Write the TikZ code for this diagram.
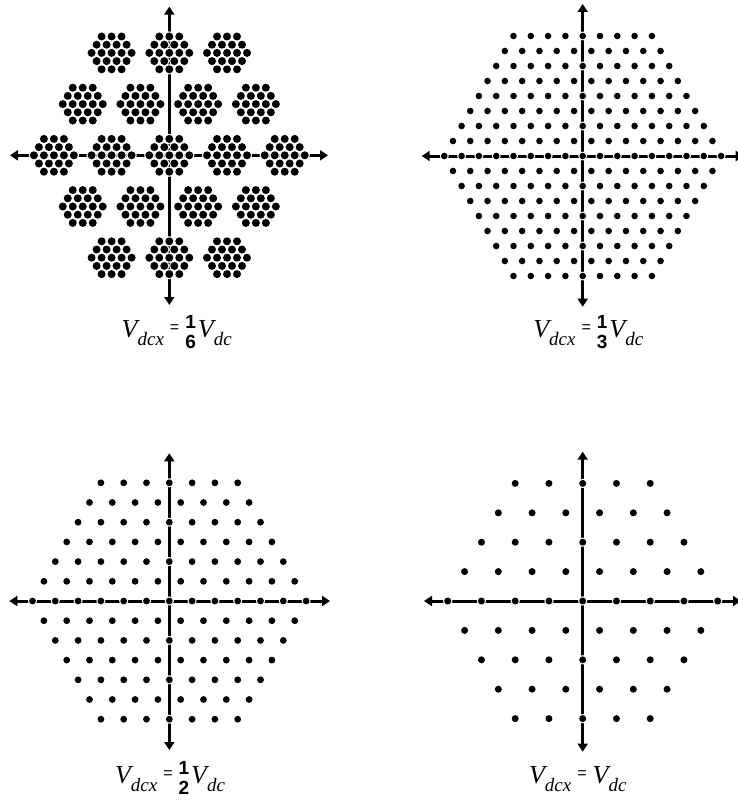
\documentclass[tikz,border=0pt]{standalone}
\usepackage{fontspec}
\usetikzlibrary{arrows.meta}
\newfontfamily\eqserif{Liberation Serif}
\newfontfamily\eqsans{Liberation Sans}

\newcommand{\dotgrid}[6]{%
  \foreach \j in {-#3,...,#3} {
    \pgfmathtruncatemacro\m{2*#3-abs(\j)}
    \foreach \i in {0,...,\m} {
      \fill[white] ({#1+(\i-\m/2)*#4},{#2+\j*#5}) circle[radius={#6pt+1.2pt}];
      \fill[black] ({#1+(\i-\m/2)*#4},{#2+\j*#5}) circle[radius=#6pt];
    }
  }}
\newcommand{\vsub}[1]{{\eqserif\itshape\fontsize{26}{26}\selectfont V}{\eqserif\itshape\fontsize{19}{19}\selectfont\raisebox{-8pt}{#1}}}
\newcommand{\veq}{\hspace{6pt}\raisebox{5pt}{\eqsans\fontsize{16}{16}\selectfont =}\hspace{6pt}}
\newcommand{\vfrac}[2]{{\eqsans\bfseries\fontsize{19}{19}\selectfont\rlap{\raisebox{9pt}{#1}}\raisebox{-11.5pt}{#2}}\hspace{2pt}}

\begin{document}
\begin{tikzpicture}[
  x=1pt, y=-1pt,
  axis/.style={<->, >={Triangle[length=8pt,width=10pt]}, line width=3pt},
  eqlabel/.style={anchor=base, inner sep=0pt}
]
\fill[white] (0,0) rectangle (737,800);
\useasboundingbox (0,0) rectangle (737,800);

\coordinate (sixthN) at (169.3,6.7);
\coordinate (sixthS) at (169.3,305);
\coordinate (sixthW) at (10,155.3);
\coordinate (sixthE) at (328,155.3);
\coordinate (thirdN) at (582.7,4);
\coordinate (thirdS) at (582.7,306.7);
\coordinate (thirdW) at (421.7,156);
\coordinate (thirdE) at (743.7,156);
\coordinate (halfN) at (169.3,453.3);
\coordinate (halfS) at (169.3,750);
\coordinate (halfW) at (9.3,601);
\coordinate (halfE) at (330,601);
\coordinate (fullN) at (582.7,451.7);
\coordinate (fullS) at (582.7,751.7);
\coordinate (fullW) at (424,601);
\coordinate (fullE) at (741,601);

\draw[axis] (sixthW) -- (sixthE);
\draw[axis] (sixthN) -- (sixthS);
\draw[axis] (thirdW) -- (thirdE);
\draw[axis] (thirdN) -- (thirdS);
\draw[axis] (halfW) -- (halfE);
\draw[axis] (halfN) -- (halfS);
\draw[axis] (fullW) -- (fullE);
\draw[axis] (fullN) -- (fullS);

\foreach \J in {-2,...,2} {
  \pgfmathtruncatemacro\M{4-abs(\J)}
  \foreach \I in {0,...,\M} {
    \pgfmathsetmacro\ux{169.3+(\I-\M/2)*57.7}
    \pgfmathsetmacro\uy{155.3+\J*51.2}
    \dotgrid{\ux}{\uy}{2}{10}{8.2}{4}
  }
}
\dotgrid{582.7}{156}{8}{17.3}{15.0}{3.3}
\dotgrid{169.3}{601}{6}{22.8}{19.7}{3.4}
\dotgrid{582.7}{601}{4}{33.75}{29.4}{3.5}

\node[eqlabel] (sixthlbl) at (176.7,337.3) {\vsub{dcx}\veq\vfrac{1}{6}\vsub{dc}};
\node[eqlabel] (thirdlbl) at (588.3,337.3) {\vsub{dcx}\veq\vfrac{1}{3}\vsub{dc}};
\node[eqlabel] (halflbl) at (170,783.3) {\vsub{dcx}\veq\vfrac{1}{2}\vsub{dc}};
\node[eqlabel] (fulllbl) at (577.8,783) {\vsub{dcx}\veq\vsub{dc}};
\end{tikzpicture}
\end{document}
